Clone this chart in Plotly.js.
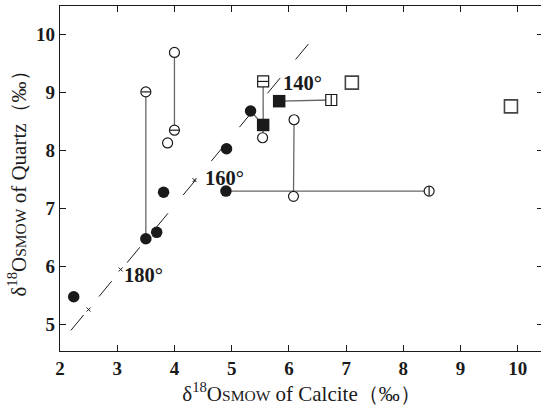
<!DOCTYPE html>
<html>
<head>
<meta charset="utf-8">
<script src="https://cdn.plot.ly/plotly-3.0.1.min.js"></script>
<style>
html, body { margin: 0; padding: 0; overflow: hidden; background: #fff; }
#chart { width: 543px; height: 406px; }
</style>
</head>
<body>
<div id="chart"></div>
<script>
// ---- data ----
const filledCircleX = [2.24, 3.50, 3.69, 3.81, 4.90, 4.91, 5.33];
const filledCircleY = [5.48, 6.48, 6.59, 7.28, 7.30, 8.03, 8.68];
const filledSquareX = [5.55, 5.83];
const filledSquareY = [8.44, 8.85];
const openCircleX = [4.00, 3.88, 5.54, 6.09, 6.08];
const openCircleY = [9.69, 8.13, 8.22, 8.53, 7.21];
const hBarCircleX = [3.50, 4.00];
const hBarCircleY = [9.01, 8.35];
const vBarCircleX = [8.45];
const vBarCircleY = [7.30];
const hBarSquareX = [5.55];
const hBarSquareY = [9.19];
const vBarSquareX = [6.74];
const vBarSquareY = [8.87];
const openSquareX = [7.10, 9.88];
const openSquareY = [9.17, 8.76];

// tie lines between paired samples
const tieStartX = [3.50, 4.00, 5.55, 5.33, 5.83, 6.09, 4.90];
const tieStartY = [6.48, 8.35, 9.19, 8.68, 8.85, 8.53, 7.30];
const tieEndX   = [3.50, 4.00, 5.55, 5.55, 6.74, 6.08, 8.45];
const tieEndY   = [9.01, 9.69, 8.22, 8.44, 8.87, 7.21, 7.30];

// equilibrium line with temperature marks
const refLineX = [2.19, 6.37];
const refLineY = [4.90, 9.87];
const tempMarkX = [2.50, 3.06, 4.35];
const tempMarkY = [5.26, 5.95, 7.49];
const tempLabels = ['180°', '160°', '140°'];
const tempLabelX = [3.08, 4.50, 5.86];
const tempLabelY = [5.85, 7.52, 9.16];

const xTicks = [2, 3, 4, 5, 6, 7, 8, 9, 10];
const yTicks = [5, 6, 7, 8, 9, 10];

// ---- build traces ----
const tieX = [], tieY = [];
for (let i = 0; i < tieStartX.length; i++) {
  tieX.push(tieStartX[i], tieEndX[i], null);
  tieY.push(tieStartY[i], tieEndY[i], null);
}

const ink = '#1a1a1a';
const serif = 'Liberation Serif, Times New Roman, serif';

const traces = [
  {x: refLineX, y: refLineY, mode: 'lines', line: {color: ink, width: 1, dash: '20px,24px'}, hoverinfo: 'skip'},
  {x: tempMarkX, y: tempMarkY, mode: 'markers', marker: {symbol: 'x-thin', size: 4, line: {color: ink, width: 1}}},
  {x: tieX, y: tieY, mode: 'lines', line: {color: '#666', width: 1.3}, connectgaps: false},
  {x: filledCircleX, y: filledCircleY, mode: 'markers', marker: {symbol: 'circle', size: 11.5, color: ink, line: {color: ink, width: 0}}},
  {x: filledSquareX, y: filledSquareY, mode: 'markers', marker: {symbol: 'square', size: 12.5, color: ink, line: {color: ink, width: 0}}},
  {x: openCircleX, y: openCircleY, mode: 'markers', marker: {symbol: 'circle', size: 10, color: '#fff', line: {color: ink, width: 1.2}}},
  {x: hBarCircleX, y: hBarCircleY, mode: 'markers', marker: {symbol: 'circle', size: 10, color: '#fff', line: {color: ink, width: 1.2}}},
  {x: hBarCircleX, y: hBarCircleY, mode: 'markers', marker: {symbol: 'line-ew', size: 6.5, line: {color: ink, width: 1.2}}},
  {x: vBarCircleX, y: vBarCircleY, mode: 'markers', marker: {symbol: 'circle', size: 10, color: '#fff', line: {color: ink, width: 1.2}}},
  {x: vBarCircleX, y: vBarCircleY, mode: 'markers', marker: {symbol: 'line-ns', size: 6.5, line: {color: ink, width: 1.2}}},
  {x: hBarSquareX, y: hBarSquareY, mode: 'markers', marker: {symbol: 'square', size: 11, color: '#fff', line: {color: ink, width: 1.2}}},
  {x: hBarSquareX, y: hBarSquareY, mode: 'markers', marker: {symbol: 'line-ew', size: 7.5, line: {color: ink, width: 1.2}}},
  {x: vBarSquareX, y: vBarSquareY, mode: 'markers', marker: {symbol: 'square', size: 11, color: '#fff', line: {color: ink, width: 1.2}}},
  {x: vBarSquareX, y: vBarSquareY, mode: 'markers', marker: {symbol: 'line-ns', size: 7.5, line: {color: ink, width: 1.2}}},
  {x: openSquareX, y: openSquareY, mode: 'markers', marker: {symbol: 'square', size: 13, color: '#fff', line: {color: '#444', width: 1.6}}}
];

const annotations = tempLabels.map((t, i) => ({
  x: tempLabelX[i], y: tempLabelY[i], xref: 'x', yref: 'y',
  text: t, showarrow: false, xanchor: 'left', yanchor: 'middle',
  font: {family: serif, size: 20.5, color: ink, weight: 700}
}));

const axisCommon = {
  showgrid: false, zeroline: false, showline: true, linecolor: ink, linewidth: 1.2,
  mirror: 'ticks', ticks: 'inside', ticklen: 6, tickwidth: 1.1, tickcolor: ink,
  tickfont: {family: serif, size: 19, color: ink, weight: 700}
};

const layout = {
  width: 543, height: 406,
  margin: {l: 60, r: 0, t: 6, b: 55},
  paper_bgcolor: '#fff', plot_bgcolor: '#fff',
  showlegend: false,
  xaxis: Object.assign({}, axisCommon, {
    range: [2, 10.44], tickmode: 'array', tickvals: xTicks, ticktext: xTicks.map(String),
    title: {text: 'δ<sup>18</sup>O<span style="font-size:15.5px">SMOW</span> of Calcite（‰）', font: {family: serif, size: 21, color: ink}, standoff: 6}
  }),
  yaxis: Object.assign({}, axisCommon, {
    range: [4.545, 10.49], tickmode: 'array', tickvals: yTicks, ticktext: yTicks.map(String),
    title: {text: 'δ<sup>18</sup>O<span style="font-size:15.5px">SMOW</span> of Quartz（‰）', font: {family: serif, size: 21, color: ink}, standoff: 3}
  }),
  annotations: annotations
};

Plotly.newPlot('chart', traces, layout, {staticPlot: true, displayModeBar: false});
</script>
</body>
</html>
